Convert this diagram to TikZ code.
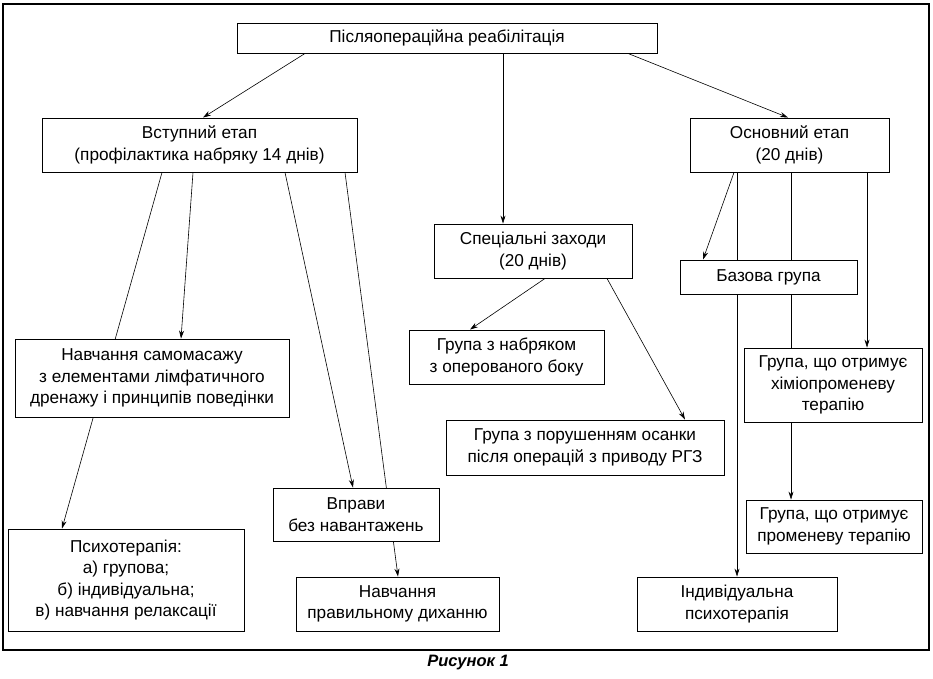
\documentclass[tikz,border=0pt]{standalone}
\usepackage{fontspec}
\setmainfont{Liberation Sans}
\usetikzlibrary{arrows.meta,backgrounds}
\tikzset{
  box/.style={draw, fill=white, line width=0.9pt, align=center, inner sep=0pt,
    font=\fontsize{17.2}{21.5}\selectfont},
  conn/.style={line width=0.6pt, -{Stealth[length=8pt,width=5pt]}},
}
\begin{document}
\begin{tikzpicture}[x=1pt,y=-1pt]
\useasboundingbox (0,0) rectangle (933,678);
\draw[line width=1.5pt] (3,4) rectangle (929,650);
\node[box, minimum width=420pt, minimum height=30pt] (top) at (447,38) {Післяопераційна реабілітація};
\node[box, minimum width=315pt, minimum height=54pt] (vst) at (199.5,145) {Вступний етап\\(профілактика набряку 14 днів)};
\node[box, minimum width=199pt, minimum height=54pt] (osn) at (789.5,145) {Основний етап\\(20 днів)};
\node[box, minimum width=198pt, minimum height=54pt] (spec) at (533,251) {Спеціальні заходи\\(20 днів)};
\node[box, minimum width=177pt, minimum height=34pt] (baz) at (768.5,277) {Базова група};
\node[box, minimum width=274pt, minimum height=78pt] (sam) at (152,378) {Навчання самомасажу\\з елементами лімфатичного\\дренажу і принципів поведінки};
\node[box, minimum width=195pt, minimum height=54pt] (nab) at (506.5,357) {Група з набряком\\з оперованого боку};
\node[box, minimum width=178pt, minimum height=74pt] (khim) at (833,385) {Група, що отримує\\хіміопроменеву\\терапію};
\node[box, minimum width=278pt, minimum height=55pt] (por) at (585,447.5) {Група з порушенням осанки\\після операцій з приводу РГЗ};
\node[box, minimum width=166pt, minimum height=53pt] (vpr) at (356,514.5) {Вправи\\без навантажень};
\node[box, minimum width=176pt, minimum height=53pt] (prom) at (834,526.5) {Група, що отримує\\променеву терапію};
\node[box, minimum width=236pt, minimum height=102pt] (psy) at (126,580) {Психотерапія:\\а) групова;\\б) індивідуальна;\\в) навчання релаксації};
\node[box, minimum width=203pt, minimum height=54pt] (dykh) at (397.5,604) {Навчання\\правильному диханню};
\node[box, minimum width=200pt, minimum height=54pt] (ind) at (737,604) {Індивідуальна\\психотерапія};
\node[font=\fontsize{16.5}{18}\selectfont\bfseries\itshape] (cap) at (468,663) {Рисунок 1};
\begin{pgfonlayer}{background}
\draw[conn] ([xshift=-142pt]top.south) -- ([xshift=3.5pt]vst.north);
\draw[conn] ([xshift=56pt]top.south) -- ([xshift=-30pt]spec.north);
\draw[conn] ([xshift=181pt]top.south) -- ([xshift=-1.5pt]osn.north);
\draw[conn] ([xshift=-6.5pt]vst.south) -- ([xshift=29pt]sam.north);
\draw[conn] ([xshift=-37.5pt]vst.south) -- ([xshift=-64pt]psy.north);
\draw[conn] ([xshift=85.5pt]vst.south) -- ([xshift=-3pt]vpr.north);
\draw[conn] ([xshift=145.5pt]vst.south) -- ([xshift=0.5pt]dykh.north);
\draw[conn] ([xshift=12pt]spec.south) -- ([xshift=-36.5pt]nab.north);
\draw[conn] ([xshift=74pt]spec.south) -- ([xshift=100pt]por.north);
\draw[conn] ([xshift=-55.5pt]osn.south) -- ([xshift=-65.5pt]baz.north);
\draw[conn] (osn.south -| ind.north) -- (ind.north);
\draw[conn] ([xshift=-43pt]prom.north |- osn.south) -- ([xshift=-43pt]prom.north);
\draw[conn] ([xshift=77.5pt]osn.south) -- ([xshift=34pt]khim.north);
\end{pgfonlayer}
\end{tikzpicture}
\end{document}
